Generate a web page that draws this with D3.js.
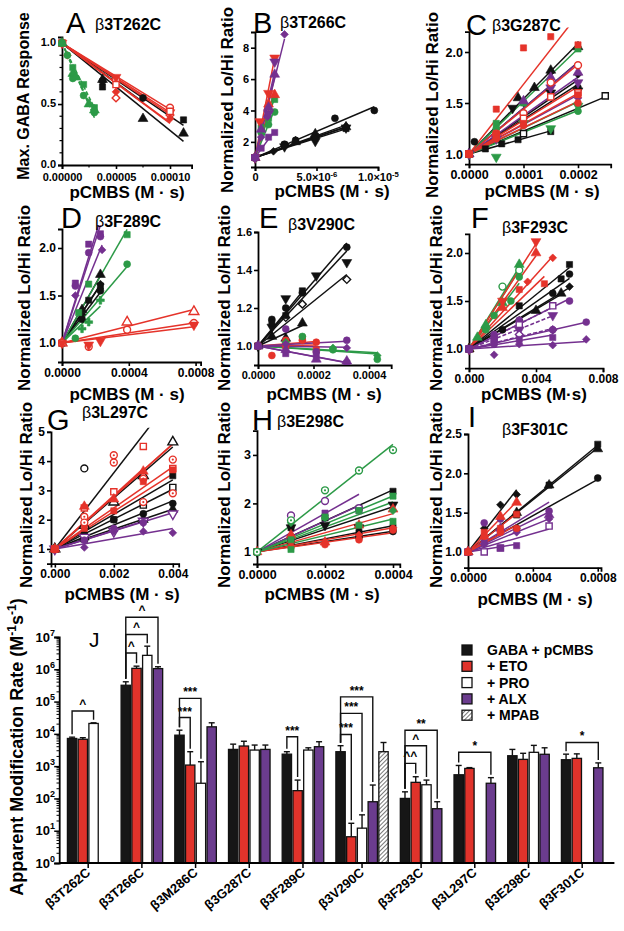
<!DOCTYPE html>
<html><head><meta charset="utf-8">
<script src="https://cdn.jsdelivr.net/npm/d3@7"></script>
<style>
body{margin:0;background:#fff}
svg{display:block}
text{font-family:"Liberation Sans",Arial,Helvetica,sans-serif}
</style>
</head><body>
<svg id="c" width="624" height="931"></svg>
<script>
// ================= DATA =================
// Scatter panels: g = group colour key (k black, r red, p purple, g green),
// m = marker, o = open marker (2 = open with dot), d = dashed fit, p = [pCMBS (M·s), value]
const seriesA = [
 {g:'k',m:'square',p:[[0,1],[3.75e-5,0.64],[1.125e-4,0.37]]},
 {g:'k',m:'triangle',p:[[0,1],[3.75e-5,0.7],[7.5e-5,0.38],[1.125e-4,0.26]]},
 {g:'k',m:'circle',p:[[0,1],[3.75e-5,0.69],[7.5e-5,0.55]]},
 {g:'r',m:'circle',o:1,p:[[0,1],[5e-5,0.7],[1e-4,0.47]]},
 {g:'r',m:'diamond',o:1,p:[[0,1],[5e-5,0.55],[1e-4,0.41]]},
 {g:'r',m:'tridown',p:[[0,1],[5e-5,0.72],[1e-4,0.43]]},
 {g:'r',m:'diamond',p:[[0,1],[0.5e-5,0.9],[5e-5,0.6],[1e-4,0.38]]},
 {g:'r',m:'square',o:1,p:[[0,1],[5e-5,0.66],[1e-4,0.44]]},
 {g:'g',m:'square',d:1,p:[[0,1],[1e-5,0.8],[2e-5,0.66],[3e-5,0.47]]},
 {g:'g',m:'circle',d:1,p:[[0,1],[0.5e-5,0.9],[1e-5,0.71],[2e-5,0.57],[3e-5,0.43]]},
 {g:'g',m:'triangle',d:1,p:[[0,1],[1e-5,0.75],[1.3e-5,0.72],[2.5e-5,0.5],[3e-5,0.45]]}
];
const seriesB = [
 {g:'k',m:'circle',p:[[0,1],[2.4e-6,1.85],[3.3e-6,2.1],[6.5e-6,3.5],[9.7e-6,4.0]]},
 {g:'k',m:'square',p:[[0,1],[2.4e-6,1.8],[4.9e-6,2.35],[7.4e-6,2.85]]},
 {g:'k',m:'triangle',p:[[0,1],[3.3e-6,2.0],[4.9e-6,2.5],[7.4e-6,2.95]]},
 {g:'k',m:'tridown',p:[[0,1],[2.4e-6,1.7],[4.9e-6,2.05],[7.4e-6,2.9]]},
 {g:'k',m:'diamond',p:[[0,1],[1.5e-6,1.4],[4.9e-6,2.2],[7.4e-6,3.0]]},
 {g:'g',m:'square',p:[[0,1],[0.5e-6,2.9],[1.1e-6,3.5],[1.6e-6,4.7]]},
 {g:'g',m:'circle',p:[[0,1],[0.5e-6,2.6],[1.1e-6,3.1],[1.6e-6,3.9]]},
 {g:'r',m:'tridown',p:[[0,1],[0.4e-6,3.3],[1.1e-6,5.1],[1.6e-6,7.35]]},
 {g:'r',m:'triangle',p:[[0,1],[1.1e-6,4.4],[1.6e-6,5.0]]},
 {g:'p',m:'diamond',p:[[0,1],[0.5e-6,2.3],[1.0e-6,3.6],[2.4e-6,8.85]]},
 {g:'p',m:'triangle',p:[[0,1],[0.5e-6,2.8],[1.1e-6,4.2],[1.6e-6,6.3]]},
 {g:'p',m:'square',p:[[0,1],[0.5e-6,1.6],[1.1e-6,2.3],[1.6e-6,2.6]]},
 {g:'p',m:'tridown',p:[[0,1],[1.1e-6,3.8],[1.6e-6,7.1]]}
];
const seriesC = [
 {g:'k',m:'triangle',p:[[0,1],[9e-5,1.55],[1.2e-4,1.65],[1.5e-4,1.82],[2e-4,2.05]]},
 {g:'k',m:'diamond',p:[[0,1],[1e-4,1.5],[1.5e-4,1.8],[2e-4,1.78]]},
 {g:'k',m:'tridown',p:[[0,1],[8e-5,1.45],[1.5e-4,1.6],[2e-4,1.62]]},
 {g:'k',m:'circle',p:[[0,1],[1e-5,1.12],[1e-4,1.4],[2e-4,1.65]]},
 {g:'k',m:'square',o:1,p:[[0,1],[1e-4,1.2],[2.5e-4,1.57]]},
 {g:'k',m:'square',p:[[0,1],[3e-5,1.05],[6e-5,1.1],[9e-5,1.14],[1.5e-4,1.22]]},
 {g:'g',m:'square',p:[[0,1],[5e-5,1.3],[1e-4,1.5],[2e-4,2.03]]},
 {g:'g',m:'tridown',p:[[0,1],[5e-5,0.97],[1e-4,1.3],[1.5e-4,1.25],[2e-4,1.47]]},
 {g:'g',m:'circle',p:[[0,1],[5e-5,1.25],[1e-4,1.38],[2e-4,1.42]]},
 {g:'p',m:'triangle',p:[[0,1],[1e-4,1.52],[1.5e-4,1.75],[2e-4,1.8]]},
 {g:'p',m:'tridown',p:[[0,1],[5e-5,1.15],[1.5e-4,1.65],[2e-4,1.7]]},
 {g:'p',m:'diamond',p:[[0,1],[1e-4,1.35],[2e-4,1.55]]},
 {g:'r',m:'square',p:[[0,1],[5e-5,1.44],[1e-4,2.04],[1.5e-4,2.15],[2e-4,2.07]]},
 {g:'r',m:'circle',o:1,p:[[0,1],[5e-5,1.2],[1e-4,1.4],[1.5e-4,1.7],[2e-4,1.87]]},
 {g:'r',m:'square',o:1,p:[[0,1],[5e-5,1.18],[1e-4,1.35],[1.5e-4,1.56],[2e-4,1.6]]},
 {g:'r',m:'square',p:[[0,1],[5e-5,1.2],[1e-4,1.3],[2e-4,1.58]]},
 {g:'r',m:'circle',p:[[0,1],[5e-5,1.15],[1e-4,1.28],[2e-4,1.5]]}
];
const seriesD = [
 {g:'k',m:'triangle',p:[[0,1],[1.2e-4,1.35],[2.3e-4,1.72]]},
 {g:'k',m:'diamond',p:[[0,1],[1.2e-4,1.3],[2.3e-4,1.62]]},
 {g:'k',m:'square',p:[[0,1],[1.6e-4,1.45],[2.3e-4,1.6]]},
 {g:'k',m:'circle',p:[[0,1],[1.2e-4,1.25],[2.3e-4,1.55]]},
 {g:'g',m:'square',p:[[0,1],[1e-4,1.32],[1.6e-4,1.62],[3.9e-4,2.14]]},
 {g:'g',m:'circle',p:[[0,1],[8e-5,1.05],[3.9e-4,1.83]]},
 {g:'g',m:'cross',p:[[0,1],[1.2e-4,1.15],[1.6e-4,1.22],[2.3e-4,1.45]]},
 {g:'p',m:'diamond',p:[[0,1],[8e-5,1.5],[2.4e-4,1.98]]},
 {g:'p',m:'square',p:[[0,1],[8e-5,1.63],[1.6e-4,2.04],[2.3e-4,2.15]]},
 {g:'p',m:'circle',p:[[0,1],[8e-5,1.6],[1.6e-4,1.95],[2.3e-4,2.12]]},
 {g:'r',m:'triangle',o:1,p:[[0,1],[3.9e-4,1.22],[7.9e-4,1.33]]},
 {g:'r',m:'circle',o:1,p:[[0,1],[1.6e-4,0.96],[3.9e-4,1.14],[7.9e-4,1.21]]},
 {g:'r',m:'tridown',p:[[0,1],[1.6e-4,0.98],[2.3e-4,1.02],[7.9e-4,1.19]]}
];
const seriesE = [
 {g:'k',m:'circle',p:[[0,1],[5e-5,1.14],[1e-4,1.2],[1.6e-4,1.28],[3.2e-4,1.52]]},
 {g:'k',m:'tridown',p:[[0,1],[5e-5,1.1],[1e-4,1.25],[2.1e-4,1.37],[3.2e-4,1.44]]},
 {g:'k',m:'diamond',o:1,p:[[0,1],[1e-4,1.15],[1.6e-4,1.22],[3.2e-4,1.35]]},
 {g:'k',m:'triangle',p:[[0,1],[5e-5,1.05],[1e-4,1.04],[1.6e-4,1.12]]},
 {g:'k',m:'square',p:[[0,1],[5e-5,1.12],[1e-4,1.16],[1.6e-4,1.29]]},
 {g:'r',m:'circle',p:[[0,1],[5e-5,0.95],[1e-4,1.03],[1.6e-4,1.03],[2.1e-4,1.02]]},
 {g:'r',m:'square',p:[[0,1],[1e-4,1.0],[1.6e-4,1.04],[2.1e-4,0.98]]},
 {g:'g',m:'circle',p:[[0,1],[1.6e-4,1.05],[2.7e-4,0.98],[4.3e-4,0.93]]},
 {g:'g',m:'diamond',p:[[0,1],[1e-4,1.02],[2.7e-4,0.99],[4.3e-4,0.95]]},
 {g:'p',m:'circle',p:[[0,1],[1e-4,1.09],[2.1e-4,0.97],[3.2e-4,1.03]]},
 {g:'p',m:'square',p:[[0,1],[1e-4,0.96],[2.1e-4,0.95],[3.2e-4,0.91]]},
 {g:'p',m:'triangle',p:[[0,1],[1e-4,0.98],[2.1e-4,0.93],[3.2e-4,0.92]]},
 {g:'p',m:'diamond',p:[[0,1],[1e-4,1.01],[3.2e-4,0.99]]}
];
const seriesF = [
 {g:'g',m:'circle',o:1,p:[[0,1],[1e-3,1.22],[2e-3,1.65],[3e-3,1.82]]},
 {g:'g',m:'circle',p:[[0,1],[1e-3,1.2],[1.5e-3,1.35],[2.5e-3,1.5],[3e-3,1.75]]},
 {g:'g',m:'triangle',p:[[0,1],[0.5e-3,1.12],[1e-3,1.25],[2e-3,1.48],[3e-3,1.88]]},
 {g:'r',m:'tridown',p:[[0,1],[2e-3,1.5],[4e-3,2.12]]},
 {g:'r',m:'triangle',p:[[0,1],[2e-3,1.43],[4e-3,2.0]]},
 {g:'r',m:'diamond',p:[[0,1],[3.5e-3,1.7],[5e-3,1.95]]},
 {g:'r',m:'square',p:[[0,1],[3e-3,1.62],[4.5e-3,1.68]]},
 {g:'k',m:'square',p:[[0,1],[3e-3,1.45],[5.5e-3,1.73],[6e-3,1.88]]},
 {g:'k',m:'circle',p:[[0,1],[2e-3,1.2],[5e-3,1.58],[6e-3,1.78]]},
 {g:'k',m:'diamond',p:[[0,1],[3e-3,1.3],[6e-3,1.65]]},
 {g:'k',m:'triangle',p:[[0,1],[4e-3,1.4],[5.5e-3,1.58]]},
 {g:'p',m:'circle',p:[[0,1],[1.5e-3,1.15],[3e-3,1.3],[6e-3,1.5]]},
 {g:'p',m:'square',o:1,d:1,p:[[0,1],[1.5e-3,1.1],[3e-3,1.25],[5e-3,1.45]]},
 {g:'p',m:'tridown',d:1,p:[[0,1],[3e-3,1.2],[5e-3,1.35]]},
 {g:'p',m:'diamond',o:1,d:1,p:[[0,1],[3e-3,1.15],[5e-3,1.2]]},
 {g:'p',m:'circle',p:[[0,1],[1.5e-3,1.05],[5e-3,1.2],[7e-3,1.28]]},
 {g:'p',m:'diamond',p:[[0,1],[1.5e-3,0.94],[3e-3,1.05],[5e-3,1.04],[7e-3,1.1]]},
 {g:'p',m:'square',p:[[0,1],[1.5e-3,1.1],[3e-3,1.1],[5e-3,1.12]]}
];
const seriesG = [
 {g:'k',m:'circle',o:1,slope:1300,p:[[0,1],[1e-3,3.75]]},
 {g:'k',m:'triangle',o:1,p:[[0,1],[1e-3,1.8],[2e-3,2.6],[3e-3,3.5],[4e-3,4.65]]},
 {g:'k',m:'square',p:[[0,1],[1e-3,1.4],[2e-3,2.0],[4e-3,3.5]]},
 {g:'k',m:'square',o:1,p:[[0,1],[1e-3,1.35],[3e-3,2.5],[4e-3,3.1]]},
 {g:'k',m:'circle',p:[[0,1],[1e-3,1.5],[2e-3,2.0],[3e-3,2.2],[4e-3,2.55]]},
 {g:'k',m:'triangle',p:[[0,1],[1e-3,1.4],[3e-3,2.0],[4e-3,2.35]]},
 {g:'p',m:'tridown',o:1,p:[[0,1],[1e-3,1.4],[2e-3,1.6],[3e-3,1.95],[4e-3,2.2]]},
 {g:'p',m:'diamond',p:[[0,1],[1e-3,1.05],[2e-3,1.6],[3e-3,1.6],[4e-3,1.55]]},
 {g:'p',m:'circle',p:[[0,1],[1e-3,1.3],[2e-3,1.7],[3e-3,1.9]]},
 {g:'r',m:'square',o:1,p:[[0,1],[1e-3,2.4],[2e-3,2.95],[3e-3,4.5],[4e-3,3.75]]},
 {g:'r',m:'circle',o:2,p:[[0,1],[1e-3,2.1],[2e-3,4.2],[3e-3,3.4],[4e-3,4.05]]},
 {g:'r',m:'circle',o:2,p:[[0,1],[1e-3,1.9],[2e-3,3.95],[3e-3,2.6],[4e-3,2.9]]},
 {g:'r',m:'triangle',p:[[0,1],[1e-3,2.45],[2e-3,2.7],[3e-3,3.65]]},
 {g:'r',m:'square',p:[[0,1],[1e-3,1.7],[2e-3,2.3],[3e-3,3.3],[4e-3,3.7]]}
];
const seriesH = [
 {g:'k',m:'square',p:[[0,1],[1e-4,1.5],[2e-4,1.7],[3e-4,1.9],[4e-4,2.25]]},
 {g:'k',m:'tridown',p:[[0,1],[1e-4,1.5],[2e-4,1.55],[3e-4,1.5],[4e-4,1.97]]},
 {g:'k',m:'circle',p:[[0,1],[1e-4,1.2],[3e-4,1.3],[4e-4,1.42]]},
 {g:'k',m:'square',p:[[0,1],[1e-4,1.3],[3e-4,1.4],[4e-4,1.5]]},
 {g:'p',m:'circle',o:1,p:[[0,1],[1e-4,1.75],[2e-4,2.05],[3e-4,1.9]]},
 {g:'p',m:'square',p:[[0,1],[1e-4,1.3],[2e-4,1.8],[3e-4,1.85]]},
 {g:'r',m:'triangle',p:[[0,1],[1e-4,1.35],[2e-4,1.2],[3e-4,1.55],[4e-4,1.88]]},
 {g:'r',m:'circle',p:[[0,1],[1e-4,1.1],[2e-4,1.15],[3e-4,1.25],[4e-4,1.45]]},
 {g:'r',m:'diamond',p:[[0,1],[1e-4,1.2],[3e-4,1.35],[4e-4,1.5]]},
 {g:'g',m:'square',p:[[0,1],[1e-4,1.05],[2e-4,1.72],[3e-4,1.85],[4e-4,2.15]]},
 {g:'g',m:'diamond',p:[[0,1],[1e-4,1.6],[2e-4,1.7],[4e-4,1.85]]},
 {g:'g',m:'square',p:[[0,1],[1e-4,1.25],[3e-4,1.55],[4e-4,1.63]]},
 {g:'g',m:'circle',o:2,p:[[0,1],[1e-4,1.65],[2e-4,2.27],[3e-4,2.68],[4e-4,3.1]]}
];
const seriesI = [
 {g:'k',m:'square',p:[[0,1],[3e-4,1.47],[5e-4,1.85],[8e-4,2.37]]},
 {g:'k',m:'triangle',p:[[0,1],[3e-4,1.5],[5e-4,1.85],[8e-4,2.31]]},
 {g:'k',m:'circle',p:[[0,1],[3e-4,1.3],[8e-4,1.94]]},
 {g:'k',m:'diamond',p:[[0,1],[1e-4,1.3],[2e-4,1.6],[3e-4,1.73]]},
 {g:'p',m:'circle',p:[[0,1],[1e-4,1.37],[2e-4,1.42],[5e-4,1.52]]},
 {g:'p',m:'triangle',p:[[0,1],[2e-4,1.3],[5e-4,1.47]]},
 {g:'p',m:'diamond',p:[[0,1],[1e-4,1.1],[3e-4,1.25],[5e-4,1.42]]},
 {g:'p',m:'square',o:1,p:[[0,1],[1e-4,1.0],[2e-4,1.05],[5e-4,1.33]]},
 {g:'p',m:'square',p:[[0,1],[1e-4,1.12],[2e-4,1.05],[3e-4,1.08]]},
 {g:'r',m:'triangle',p:[[0,1],[1e-4,1.2],[2e-4,1.45],[3e-4,1.63]]},
 {g:'r',m:'square',p:[[0,1],[1e-4,1.25],[2e-4,1.3],[3e-4,1.48]]},
 {g:'r',m:'circle',p:[[0,1],[1e-4,1.2],[2e-4,1.25],[3e-4,1.3]]}
];

// axis domains and tick labels
const domA = {x:[0,0.00012], y:[0,1.05]};
const ticksA = {x:[0,0.00005,0.0001], xl:['0.00000','0.00005','0.00010'], y:[0,0.5,1], yl:['0.0','0.5','1.0']};
const domB = {x:[0,1e-5], y:[0.4,9]};
const ticksB = {x:[0,5e-6,1e-5], xl:['0','5.0×10^-6','1.0×10^-5'], y:[2,4,6,8], yl:['2','4','6','8']};
const domC = {x:[0,0.00026], y:[0.9,2.2]};
const ticksC = {x:[0,0.0001,0.0002], xl:['0.0000','0.0001','0.0002'], y:[1,1.5,2], yl:['1.0','1.5','2.0']};
const domD = {x:[0,0.00083], y:[0.8,2.2]};
const ticksD = {x:[0,0.0004,0.0008], xl:['0.0000','0.0004','0.0008'], y:[1,1.5,2], yl:['1.0','1.5','2.0']};
const domE = {x:[0,0.00048], y:[0.9,1.6]};
const ticksE = {x:[0,0.0002,0.0004], xl:['0.0000','0.0002','0.0004'], y:[1,1.2,1.4,1.6], yl:['1.0','1.2','1.4','1.6']};
const domF = {x:[0,0.008], y:[0.8,2.2]};
const ticksF = {x:[0,0.004,0.008], xl:['0.000','0.004','0.008'], y:[1,1.5,2], yl:['1.0','1.5','2.0']};
const domG = {x:[-0.00013,0.0042], y:[0.5,5]};
const ticksG = {x:[0,0.002,0.004], xl:['0.000','0.002','0.004'], y:[1,2,3,4,5], yl:['1','2','3','4','5']};
const domH = {x:[0,0.00042], y:[0.75,3.5]};
const ticksH = {x:[0,0.0002,0.0004], xl:['0.0000','0.0002','0.0004'], y:[1,2,3], yl:['1','2','3']};
const domI = {x:[0,0.00082], y:[0.8,2.5]};
const ticksI = {x:[0,0.0004,0.0008], xl:['0.0000','0.0004','0.0008'], y:[1,1.5,2,2.5], yl:['1.0','1.5','2.0','2.5']};

const titles = {
 A:['A','T262C','Max. GABA Response','pCMBS (M · s)'],
 B:['B','T266C','Normalized Lo/Hi Ratio','pCMBS (M · s)'],
 C:['C','G287C','Normalized Lo/Hi Ratio','pCMBS (M · s)'],
 D:['D','F289C','Normalized Lo/Hi Ratio','pCMBS (M · s)'],
 E:['E','V290C','Normalized Lo/Hi Ratio','pCMBS (M · s)'],
 F:['F','F293C','Normalized Lo/Hi Ratio','pCMBS (M·s)'],
 G:['G','L297C','Normalized Lo/Hi Ratio','pCMBS (M · s)'],
 H:['H','E298C','Normalized Lo/Hi Ratio','pCMBS (M · s)'],
 I:['I','F301C','Normalized Lo/Hi Ratio','pCMBS (M · s)']
};

// Panel J: apparent modification rates (M^-1 s^-1)
const mutants = ['β3T262C','β3T266C','β3M286C','β3G287C','β3F289C','β3V290C','β3F293C','β3L297C','β3E298C','β3F301C'];
const condLabels = ['GABA + pCMBS','+ ETO','+ PRO','+ ALX','+ MPAB'];
const rateGABA = [7200, 3.2e5, 9100, 3300, 2350, 2800, 100, 540, 2100, 1580];
const rateETO  = [6800, 1.07e6, 1080, 4200, 174, 6.5, 315, 850, 1620, 1740];
const ratePRO  = [21000, 2.7e6, 295, 3150, 3150, 12, 265, null, 2680, null];
const rateALX  = [null, 1.05e6, 16500, 3300, 4000, 79, 48, 295, 2330, 890];
const rateMPAB = [null, null, null, null, null, 2800, null, null, null, null];
const errGABA = [7900, 4.1e5, 13000, 4800, 2800, 4300, 160, 1050, 3300, 2350];
const errETO  = [7600, 1.25e6, 2800, 5900, 370, 17, 470, 900, 2500, 2400];
const errPRO  = [22000, 5.2e6, 1370, 4500, 3700, 31, 370, null, 4400, null];
const errALX  = [null, 1.2e6, 22000, 4500, 5700, 260, 79, 440, 3700, 1260];
const errMPAB = [null, null, null, null, null, 5400, null, null, null, null];
// significance brackets: [mutant index, condition a, condition b, bracket height (rate), label]
const brackets = [
 [0,0,2,5.1e4,'^'],
 [1,0,1,3.2e6,'^'],[1,0,2,1.2e7,'^'],[1,0,3,4.1e7,'^'],
 [2,0,1,3.2e4,'***'],[2,0,2,1.26e5,'***'],
 [4,0,1,8100,'***'],
 [5,0,1,9600,'***'],[5,0,2,4.3e4,'***'],[5,0,3,1.4e5,'***'],
 [6,0,1,1220,'^^'],[6,0,2,4300,'^'],[6,0,3,1.3e4,'**'],
 [7,0,3,2700,'*'],
 [9,0,3,5400,'*']
];
const decades = [1,10,100,1e3,1e4,1e5,1e6,1e7];

// ================= STYLE / LAYOUT =================
const COL = {k:'#111111', r:'#e5332a', p:'#74308f', g:'#2c9a47'};
const layout = {
 A:{xr:[62,191.6], yr:[165,37], fs:11, xpad:4, letter:[66,33], sub:[95,30], yl:[29,96], xl:[127,198], yfs:16},
 B:{xr:[255,378], yr:[167,32], fs:11, letter:[253,33], sub:[280,28], yl:[233,100], xl:[332,197]},
 C:{xr:[469,610.7], yr:[164.2,31.6], fs:12.5, letter:[466,35], sub:[492,31], yl:[438,105], xl:[542,197]},
 D:{xr:[62,200.6], yr:[362,229], fs:12, letter:[61,228], sub:[95,227], yl:[30,298], xl:[127,400]},
 E:{xr:[258,391.2], yr:[365,232], fs:11, letter:[259,228], sub:[288,230], yl:[230,298], xl:[324,400]},
 F:{xr:[469,603], yr:[368.2,233.8], fs:12, letter:[471,228], sub:[502,233], yl:[442,298], xl:[534,400]},
 G:{xr:[51,178.7], yr:[563.6,431.8], fs:12, letter:[47,430], sub:[82,418], yl:[32,495], xl:[122,600]},
 H:{xr:[257,399.8], yr:[564,430.7], fs:12.5, letter:[252,430], sub:[277,427], yl:[230,495], xl:[322,600]},
 I:{xr:[468,601], yr:[567.7,434], fs:12, letter:[468,427], sub:[502,435], yl:[442,495], xl:[535,605]}
};

const svg = d3.select('#c');
const defs = svg.append('defs');

function supText(sel, str, supSize){
  const parts = str.split('^');
  sel.text(null);
  sel.append('tspan').text(parts[0]);
  if (parts.length>1) sel.append('tspan').attr('dy','-0.5em').attr('font-size',supSize).text(parts[1]);
}

function marker(sel, s, px, py){
  const c = COL[s.g];
  const types = {circle:d3.symbolCircle, square:d3.symbolSquare, triangle:d3.symbolTriangle,
                 tridown:d3.symbolTriangle, diamond:d3.symbolSquare, cross:d3.symbolCross};
  const size = s.m==='diamond'?30 : (s.m==='triangle'||s.m==='tridown')?42 : s.m==='cross'?34 : 38;
  const rot = s.m==='tridown'?180 : s.m==='diamond'?45 : 0;
  sel.append('path').attr('d', d3.symbol(types[s.m], size)())
    .attr('transform',`translate(${px},${py}) rotate(${rot})`)
    .attr('fill', s.o ? '#fff' : c).attr('stroke', c).attr('stroke-width', s.o?1.4:0.6);
  if (s.o===2) sel.append('circle').attr('cx',px).attr('cy',py).attr('r',1.1).attr('fill',c);
}

function scatter(key, dom, ticks, series){
  const L = layout[key], T = titles[key];
  const x = d3.scaleLinear().domain(dom.x).range(L.xr);
  const y = d3.scaleLinear().domain(dom.y).range(L.yr);
  const g = svg.append('g');
  const cid = 'clip'+key;
  defs.append('clipPath').attr('id',cid).append('rect')
    .attr('x',L.xr[0]-4).attr('y',L.yr[1]-4).attr('width',L.xr[1]-L.xr[0]+8).attr('height',L.yr[0]-L.yr[1]+4);

  // axes
  const xa = g.append('g').attr('transform',`translate(0,${L.yr[0]})`)
    .call(d3.axisBottom(x).tickValues(ticks.x).tickFormat((d,i)=>ticks.xl[i]).tickSizeOuter(0).tickSize(4).tickPadding(L.xpad||2));
  const ya = g.append('g').attr('transform',`translate(${L.xr[0]},0)`)
    .call(d3.axisLeft(y).tickValues(ticks.y).tickFormat((d,i)=>ticks.yl[i]).tickSizeOuter(0).tickSize(4).tickPadding(2));
  [xa,ya].forEach(a=>{
    a.select('.domain').attr('stroke','#000').attr('stroke-width',1.8);
    a.selectAll('.tick line').attr('stroke','#000').attr('stroke-width',1.6);
    a.selectAll('.tick text').attr('fill','#000').attr('font-weight','bold').attr('font-size',L.fs)
      .attr('font-family','"Liberation Sans",Arial,sans-serif');
  });
  if (key==='A') ya.selectAll('.tick text').attr('dy','0.2em');
  xa.selectAll('.tick text').each(function(d,i){ supText(d3.select(this), ticks.xl[i], L.fs*0.7); });
  // keep labels inside the page
  xa.selectAll('.tick text').each(function(){
    const bb = this.getBBox(), m = this.getCTM();
    const right = m.e + bb.x + bb.width;
    if (right > 621) d3.select(this).attr('dx', -(right-621));
  });

  // plot
  const plot = g.append('g').attr('clip-path',`url(#${cid})`);
  series.forEach(s=>{
    const [x0,y0] = s.p[0];
    let num=0, den=0;
    s.p.forEach(([a,b])=>{ if(a>x0){ num+=(a-x0)*(b-y0); den+=(a-x0)*(a-x0);} });
    const slope = s.slope!==undefined ? s.slope : num/den;
    const xe = s.slope!==undefined ? dom.x[1] : d3.max(s.p, d=>d[0]);
    plot.append('line').attr('x1',x(x0)).attr('y1',y(y0)).attr('x2',x(xe)).attr('y2',y(y0+slope*(xe-x0)))
      .attr('stroke',COL[s.g]).attr('stroke-width',1.5).attr('stroke-dasharray', s.d?'4,2':null);
  });
  series.forEach(s=> s.p.forEach(([a,b])=> marker(plot, s, x(a), y(b))));

  // titles
  g.append('text').attr('x',L.letter[0]).attr('y',L.letter[1]).attr('font-size',29).text(T[0]);
  const st = g.append('text').attr('x',L.sub[0]).attr('y',L.sub[1]).attr('font-size',16);
  st.append('tspan').attr('font-weight','normal').text('β');
  st.append('tspan').attr('font-weight','bold').text('3'+T[1]);
  g.append('text').attr('transform',`translate(${L.yl[0]},${L.yl[1]}) rotate(-90)`).attr('text-anchor','middle')
    .attr('font-weight','bold').attr('font-size',L.yfs||17).text(T[2]);
  g.append('text').attr('x',L.xl[0]).attr('y',L.xl[1]).attr('text-anchor','middle')
    .attr('font-weight','bold').attr('font-size',17).text(T[3]);
}

scatter('A', domA, ticksA, seriesA);
scatter('B', domB, ticksB, seriesB);
scatter('C', domC, ticksC, seriesC);
scatter('D', domD, ticksD, seriesD);
scatter('E', domE, ticksE, seriesE);
scatter('F', domF, ticksF, seriesF);
scatter('G', domG, ticksG, seriesG);
scatter('H', domH, ticksH, seriesH);
scatter('I', domI, ticksI, seriesI);

// minor ticks for panel A
(function(){
  const L = layout.A;
  const x = d3.scaleLinear().domain(domA.x).range(L.xr);
  const y = d3.scaleLinear().domain(domA.y).range(L.yr);
  const g = svg.append('g').attr('stroke','#000').attr('stroke-width',1.2);
  [0.1,0.2,0.3,0.4,0.6,0.7,0.8,0.9].forEach(v=> g.append('line').attr('x1',L.xr[0]-2.5).attr('x2',L.xr[0]).attr('y1',y(v)).attr('y2',y(v)));
  [0.000025,0.000075].forEach(v=> g.append('line').attr('x1',x(v)).attr('x2',x(v)).attr('y1',L.yr[0]).attr('y2',L.yr[0]+2.5));
})();

// ================= PANEL J =================
const condRates = [rateGABA, rateETO, ratePRO, rateALX, rateMPAB];
const condErrs  = [errGABA, errETO, errPRO, errALX, errMPAB];
const condFill  = ['#161616','#e0332b','#ffffff','#6b3c8e','url(#hatch)'];

const pat = defs.append('pattern').attr('id','hatch').attr('patternUnits','userSpaceOnUse')
  .attr('width',3).attr('height',3).attr('patternTransform','rotate(45)');
pat.append('rect').attr('width',3).attr('height',3).attr('fill','#fff');
pat.append('line').attr('x1',0).attr('y1',0).attr('x2',0).attr('y2',3).attr('stroke','#555').attr('stroke-width',1.6);

const yJ = d3.scaleLog().domain([1,1e7]).range([863,637]);
const xJ = d3.scaleLinear().domain([-0.7,51]).range([59.2,614.4]);
const slotPx = xJ(1)-xJ(0);
const nSlots = mutants.map((m,i)=> rateMPAB[i]!=null ? 5 : 4);
const groupStart = [];
{ let s=0; nSlots.forEach(n=>{ groupStart.push(s); s += n+1; }); }

const gJ = svg.append('g');
// bars
mutants.forEach((m,gi)=>{
  condRates.forEach((arr,ci)=>{
    const v = arr[gi]; if (v==null) return;
    const sx = xJ(groupStart[gi]+ci);
    gJ.append('rect').attr('x',sx+0.7).attr('y',yJ(v)).attr('width',slotPx-1.4).attr('height',yJ(1)-yJ(v))
      .attr('fill',condFill[ci]).attr('stroke','#111').attr('stroke-width',1.3);
    const e = condErrs[ci][gi];
    if (e!=null){
      const cx = sx+slotPx/2;
      gJ.append('line').attr('x1',cx).attr('x2',cx).attr('y1',yJ(v)).attr('y2',yJ(e)).attr('stroke','#111').attr('stroke-width',1.4);
      gJ.append('line').attr('x1',cx-3).attr('x2',cx+3).attr('y1',yJ(e)).attr('y2',yJ(e)).attr('stroke','#111').attr('stroke-width',1.4);
    }
  });
});
// axes
gJ.append('line').attr('x1',59.2).attr('x2',614.4).attr('y1',yJ(1)).attr('y2',yJ(1)).attr('stroke','#000').attr('stroke-width',1.8);
const yaJ = gJ.append('g').attr('transform','translate(59.2,0)')
  .call(d3.axisLeft(yJ).tickValues(decades).tickFormat('').tickSizeOuter(0).tickSize(5));
yaJ.select('.domain').attr('stroke','#000').attr('stroke-width',1.8);
yaJ.selectAll('.tick line').attr('stroke','#000').attr('stroke-width',1.5);
decades.forEach(d=>{
  const t = gJ.append('text').attr('x',55).attr('y',yJ(d)+4.5).attr('text-anchor','end')
    .attr('font-weight','bold').attr('font-size',13);
  t.append('tspan').text('10');
  t.append('tspan').attr('dy',-6).attr('font-size',9).text(String(Math.round(Math.log10(d))));
});
for (let k=0;k<7;k++) for (let m=2;m<=9;m++){
  const yy = yJ(m*Math.pow(10,k));
  gJ.append('line').attr('x1',56.5).attr('x2',59.2).attr('y1',yy).attr('y2',yy).attr('stroke','#000').attr('stroke-width',1);
}
// x ticks & labels
mutants.forEach((m,gi)=>{
  const cx = xJ(groupStart[gi]+nSlots[gi]/2);
  gJ.append('line').attr('x1',cx).attr('x2',cx).attr('y1',yJ(1)).attr('y2',yJ(1)+5).attr('stroke','#000').attr('stroke-width',1.5);
  gJ.append('text').attr('transform',`translate(${cx+3},${yJ(1)+11}) rotate(-40)`).attr('text-anchor','end')
    .attr('font-weight','bold').attr('font-size',13).text(m);
});
// brackets
brackets.forEach(([gi,a,b,top,lab])=>{
  const xa = xJ(groupStart[gi]+a)+slotPx/2, xb = xJ(groupStart[gi]+b)+slotPx/2;
  const ya = yJ(condErrs[a][gi])-3, yb = yJ(condErrs[b][gi])-3, yt = yJ(top);
  gJ.append('path').attr('d',`M${xa},${ya}V${yt}H${xb}V${yb}`).attr('fill','none').attr('stroke','#111').attr('stroke-width',1.4);
  gJ.append('text').attr('x',(xa+xb)/2).attr('y',yt-(lab.indexOf('*')>=0?2:3)).attr('text-anchor','middle')
    .attr('font-weight','bold').attr('font-size',12).text(lab);
});
// J letter and y title
gJ.append('text').attr('x',89).attr('y',647).attr('font-size',21).text('J');
{
  const t = gJ.append('text').attr('transform','translate(23,747) rotate(-90)').attr('text-anchor','middle')
    .attr('font-weight','bold').attr('font-size',18);
  t.append('tspan').text('Apparent Modification Rate (M');
  t.append('tspan').attr('dy',-7).attr('font-size',12).text('-1');
  t.append('tspan').attr('dy',7).text('s');
  t.append('tspan').attr('dy',-7).attr('font-size',12).text('-1');
  t.append('tspan').attr('dy',7).text(')');
}
// legend
condLabels.forEach((lab,ci)=>{
  const cy = 650 + ci*16.3;
  gJ.append('rect').attr('x',462).attr('y',cy-5).attr('width',10).attr('height',10)
    .attr('fill',condFill[ci]).attr('stroke','#111').attr('stroke-width',1.3);
  gJ.append('text').attr('x',487).attr('y',cy+5).attr('font-weight','bold').attr('font-size',14).text(lab);
});
</script>
</body></html>
